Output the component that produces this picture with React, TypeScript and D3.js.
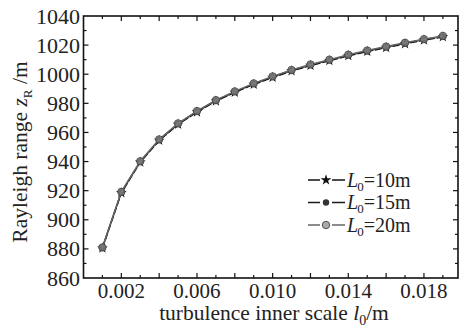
import React from "react";
import * as d3 from "d3";

const xValues = [0.001, 0.002, 0.003, 0.004, 0.005, 0.006, 0.007, 0.008, 0.009, 0.010, 0.011, 0.012, 0.013, 0.014, 0.015, 0.016, 0.017, 0.018, 0.019];
const seriesL10 = [880.5, 918.5, 939.5, 954.5, 965.5, 974.0, 981.5, 987.5, 993.0, 997.8, 1002.2, 1006.0, 1009.3, 1012.7, 1015.6, 1018.3, 1020.9, 1023.4, 1025.6];
const seriesL15 = [880.8, 918.9, 939.9, 954.9, 965.9, 974.4, 981.9, 987.9, 993.4, 998.2, 1002.6, 1006.4, 1009.7, 1013.1, 1016.0, 1018.7, 1021.3, 1023.8, 1026.0];
const seriesL20 = [881.0, 919.2, 940.2, 955.2, 966.2, 974.7, 982.2, 988.2, 993.7, 998.5, 1002.9, 1006.7, 1010.0, 1013.4, 1016.3, 1019.0, 1021.6, 1024.1, 1026.3];
const xTickLabels = [0.002, 0.006, 0.010, 0.014, 0.018];
const yTickLabels = [860, 880, 900, 920, 940, 960, 980, 1000, 1020, 1040];
const legendLabels = ["10m", "15m", "20m"];

const W = 461, H = 329;
const L = 83.5, R = 458, T = 16, B = 278;
const FONT = "'Liberation Serif', 'Times New Roman', serif";

export default function App() {
  const x = d3.scaleLinear().domain([0, 0.0198]).range([L, R]);
  const y = d3.scaleLinear().domain([860, 1040]).range([B, T]);
  const line = d3.line<number>().x((_, i) => x(xValues[i])).y((v) => y(v));

  const xMinor = d3.range(1, 20).map((k) => k / 1000);
  const yMinor = d3.range(870, 1040, 10);

  const star = d3.symbol().type(d3.symbolStar).size(36)() as string;

  const series = [
    { data: seriesL10, stroke: "#111", dash: "7,2", marker: "star" },
    { data: seriesL15, stroke: "#1a1a1a", dash: "", marker: "dot" },
    { data: seriesL20, stroke: "#666", dash: "", marker: "grey" },
  ];

  const drawMarker = (m: string, cx: number, cy: number, key: any) => {
    if (m === "star") return <path key={key} d={star} transform={`translate(${cx},${cy})`} fill="#111" />;
    if (m === "dot") return <circle key={key} cx={cx} cy={cy} r={3.2} fill="#333" />;
    return <circle key={key} cx={cx} cy={cy} r={3.7} fill="#888" fillOpacity={0.7} stroke="#444" strokeWidth={0.9} />;
  };

  return (
    <svg width={W} height={H} style={{ position: "absolute", left: 0, top: 0, background: "#fff" }}>
      <rect x={0} y={0} width={W} height={H} fill="#fff" />
      <rect x={L} y={T} width={R - L} height={B - T} fill="none" stroke="#111" strokeWidth={1.6} />
      {xMinor.map((v, i) => {
        const major = Math.round(v * 1000) % 2 === 0;
        const len = major ? 5 : 3;
        return (
          <g key={"xt" + i} stroke="#111" strokeWidth={1.2}>
            <line x1={x(v)} x2={x(v)} y1={B} y2={B - len} />
            <line x1={x(v)} x2={x(v)} y1={T} y2={T + len} />
          </g>
        );
      })}
      {yMinor.map((v, i) => {
        const major = v % 20 === 0;
        const len = major ? 5 : 3;
        return (
          <g key={"yt" + i} stroke="#111" strokeWidth={1.2}>
            <line x1={L} x2={L + len} y1={y(v)} y2={y(v)} />
            <line x1={R} x2={R - len} y1={y(v)} y2={y(v)} />
          </g>
        );
      })}
      {xTickLabels.map((v, i) => (
        <text key={"xl" + i} x={x(v)} y={298} textAnchor="middle" fontFamily={FONT} fontSize={21} fill="#222">
          {v.toFixed(3)}
        </text>
      ))}
      {yTickLabels.map((v, i) => (
        <text key={"yl" + i} x={80} y={y(v) + 7.5} textAnchor="end" fontFamily={FONT} fontSize={22} fill="#222">
          {v}
        </text>
      ))}
      <text x={274} y={320} textAnchor="middle" fontFamily={FONT} fontSize={21.5} fill="#222">
        turbulence inner scale <tspan fontStyle="italic">l</tspan>
        <tspan fontSize={14} dy={5}>0</tspan>
        <tspan dy={-5}>/m</tspan>
      </text>
      <text transform={`translate(27,${(T + B) / 2 + 5}) rotate(-90)`} textAnchor="middle" fontFamily={FONT} fontSize={21.5} fill="#222">
        Rayleigh range <tspan fontStyle="italic">z</tspan>
        <tspan fontSize={13} dy={5}>R</tspan>
        <tspan dy={-5}> /m</tspan>
      </text>
      {series.map((s, si) => (
        <g key={"s" + si}>
          <path d={line(s.data) as string} fill="none" stroke={s.stroke} strokeWidth={1.5} strokeDasharray={s.dash} />
          {s.data.map((v, i) => drawMarker(s.marker, x(xValues[i]), y(v), i))}
        </g>
      ))}
      {series.map((s, si) => {
        const cy = 180 + si * 22.5;
        return (
          <g key={"lg" + si}>
            <line x1={308} x2={320} y1={cy} y2={cy} stroke={s.stroke} strokeWidth={1.5} />
            <line x1={332} x2={345} y1={cy} y2={cy} stroke={s.stroke} strokeWidth={1.5} />
            {drawMarker(s.marker, 326, cy, "m")}
            <text x={347} y={cy + 6.5} fontFamily={FONT} fontSize={20} fill="#222">
              <tspan fontStyle="italic">L</tspan>
              <tspan fontSize={13} dx={-1} dy={4}>0</tspan>
              <tspan dy={-4}>={legendLabels[si]}</tspan>
            </text>
          </g>
        );
      })}
    </svg>
  );
}
